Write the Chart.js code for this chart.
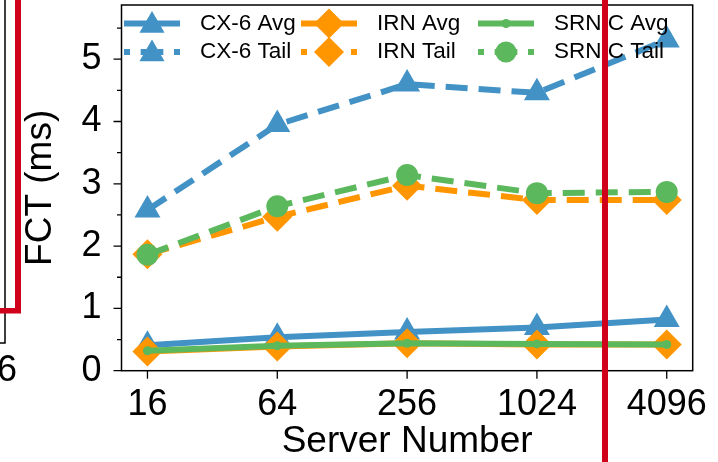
<!DOCTYPE html>
<html>
<head>
<meta charset="utf-8">
<script src="https://cdn.jsdelivr.net/npm/chart.js@4/dist/chart.umd.min.js"></script>
<style>
  html, body { margin: 0; padding: 0; background: #fff; }
  canvas { display: block; }
</style>
</head>
<body>
<canvas id="fct" width="718" height="462"></canvas>
<script>
// data
const servers = ['16', '64', '256', '1024', '4096'];
const cx6Avg = [0.41, 0.535, 0.62, 0.695, 0.82];
const cx6Tail = [2.58, 3.95, 4.6, 4.46, 5.31];
const irnAvg = [0.31, 0.39, 0.44, 0.42, 0.42];
const irnTail = [1.87, 2.47, 2.97, 2.74, 2.74];
const srnicAvg = [0.32, 0.40, 0.44, 0.43, 0.42];
const srnicTail = [1.86, 2.64, 3.14, 2.85, 2.87];
const yTicks = [0, 1, 2, 3, 4, 5];
const yMax = 5.87;

const FONT = "'Liberation Sans', Arial, Helvetica, sans-serif";
const BLUE = '#4292c6', ORANGE = '#ff9600', GREEN = '#5cb85c';
const DASH = [22, 11];
const NO_PAD = () => ({ left: 0, top: 0, right: 0, bottom: 0 });

function series(label, vals, color, style, radius, dash, order) {
  return {
    label,
    data: vals.map((v, i) => ({ x: i, y: v })),
    borderColor: color,
    backgroundColor: color,
    borderWidth: 6,
    borderDash: dash,
    borderCapStyle: 'butt',
    borderJoinStyle: 'round',
    pointStyle: style,
    pointRadius: radius,
    pointHoverRadius: radius,
    pointBackgroundColor: color,
    pointBorderWidth: 0,
    tension: 0,
    fill: false,
    clip: false,
    order
  };
}

const datasets = [
  series('CX-6 Avg', cx6Avg, BLUE, 'triangle', 15, [], 6),
  series('CX-6 Tail', cx6Tail, BLUE, 'triangle', 15, DASH, 5),
  series('IRN Avg', irnAvg, ORANGE, 'rectRot', 15, [], 4),
  series('IRN Tail', irnTail, ORANGE, 'rectRot', 15, DASH, 3),
  series('SRNIC Avg', srnicAvg, GREEN, 'circle', 4.5, [], 2),
  series('SRNIC Tail', srnicTail, GREEN, 'circle', 11, DASH, 1)
];

// marker shapes, same geometry as chart.js points
function marker(ctx, style, r, x, y) {
  ctx.beginPath();
  if (style === 'triangle') {
    ctx.moveTo(x, y - r);
    ctx.lineTo(x + r * Math.sin(2 * Math.PI / 3), y + r / 2);
    ctx.lineTo(x - r * Math.sin(2 * Math.PI / 3), y + r / 2);
  } else if (style === 'rectRot') {
    ctx.moveTo(x - r, y);
    ctx.lineTo(x, y - r);
    ctx.lineTo(x + r, y);
    ctx.lineTo(x, y + r);
  } else {
    ctx.arc(x, y, r, 0, Math.PI * 2);
  }
  ctx.closePath();
  ctx.fill();
}

// spines and tick marks
const axesFrame = {
  id: 'axesFrame',
  beforeDatasetsDraw(chart) {
    const { ctx, chartArea: a, scales: { x, y } } = chart;
    ctx.save();
    ctx.strokeStyle = '#000';
    ctx.lineWidth = 1.5;
    ctx.strokeRect(a.left, a.top, a.right - a.left, a.bottom - a.top);
    ctx.lineWidth = 1.3;
    ctx.beginPath();
    yTicks.forEach(v => {
      const p = y.getPixelForValue(v);
      ctx.moveTo(a.left - 8, p); ctx.lineTo(a.left, p);
    });
    for (let v = 0.5; v < yMax; v += 1) {
      const p = y.getPixelForValue(v);
      ctx.moveTo(a.left - 4.5, p); ctx.lineTo(a.left, p);
    }
    servers.forEach((s, i) => {
      const p = x.getPixelForValue(i);
      ctx.moveTo(p, a.bottom); ctx.lineTo(p, a.bottom + 8);
    });
    ctx.stroke();
    ctx.restore();
  }
};

// legend inside the axes, 3 columns x 2 rows, no frame
const insideLegend = {
  id: 'insideLegend',
  afterDatasetsDraw(chart) {
    const { ctx } = chart;
    const sets = chart.data.datasets;
    ctx.save();
    ctx.font = '22.5px ' + FONT;
    ctx.textBaseline = 'middle';
    ctx.textAlign = 'left';
    sets.forEach((d, i) => {
      const col = Math.floor(i / 2), row = i % 2;
      const x0 = 124 + col * 177, y0 = row === 0 ? 23.5 : 52;
      ctx.strokeStyle = d.borderColor;
      ctx.fillStyle = d.borderColor;
      ctx.lineWidth = 6;
      ctx.lineCap = 'butt';
      ctx.setLineDash(row === 0 ? [] : [6, 10.67]);
      ctx.beginPath();
      ctx.moveTo(x0, y0); ctx.lineTo(x0 + 56, y0);
      ctx.stroke();
      ctx.setLineDash([]);
      const r = d.pointStyle === 'triangle' ? 14.5 : (d.pointStyle === 'rectRot' ? 15 : (row === 0 ? 4.5 : 10.5));
      marker(ctx, d.pointStyle, r, x0 + 28, y0 + (d.pointStyle === 'triangle' ? 2 : 0));
      ctx.fillStyle = '#000';
      ctx.fillText(d.label, x0 + 76, y0);
    });
    ctx.restore();
  }
};

// red annotation marks and the cut-off neighbour panel
const overlay = {
  id: 'overlay',
  afterDraw(chart) {
    const { ctx } = chart;
    ctx.save();
    ctx.strokeStyle = '#000';
    ctx.lineWidth = 1.5;
    ctx.beginPath();
    ctx.moveTo(5, 0); ctx.lineTo(5, 343); ctx.lineTo(0, 343);
    ctx.stroke();
    ctx.fillStyle = '#000';
    ctx.font = '36px ' + FONT;
    ctx.textAlign = 'right';
    ctx.textBaseline = 'middle';
    ctx.fillText('6', 17, 371);
    ctx.fillStyle = '#d0021b';
    ctx.fillRect(15, 0, 6, 313);
    ctx.fillRect(0, 308, 21, 5.5);
    ctx.fillRect(602, 0, 6, 462);
    ctx.restore();
  }
};

new Chart(document.getElementById('fct').getContext('2d'), {
  type: 'line',
  data: { datasets },
  plugins: [axesFrame, insideLegend, overlay],
  options: {
    responsive: false,
    animation: false,
    devicePixelRatio: 1,
    layout: { autoPadding: false, padding: { left: 0, top: 5, right: 25.3, bottom: 0 } },
    plugins: { legend: { display: false }, tooltip: { enabled: false } },
    scales: {
      x: {
        type: 'linear',
        min: -0.2,
        max: 4.2,
        afterBuildTicks(s) { s.ticks = servers.map((_, i) => ({ value: i })); },
        ticks: {
          callback: v => servers[v],
          padding: 12.5,
          maxRotation: 0,
          autoSkip: false,
          color: '#000',
          font: { family: FONT, size: 36 }
        },
        grid: { display: false, drawTicks: false },
        border: { display: false },
        title: {
          display: true,
          text: 'Server Number',
          color: '#000',
          font: { family: FONT, size: 37 },
          padding: { top: 0, bottom: -2 }
        },
        afterFit(s) {
          s.height = 91.3;
          s.paddingLeft = s.paddingRight = s.paddingTop = s.paddingBottom = 0;
          s.getPadding = NO_PAD;
        }
      },
      y: {
        min: 0,
        max: yMax,
        ticks: {
          stepSize: 1,
          includeBounds: false,
          padding: 20,
          color: '#000',
          font: { family: FONT, size: 36 }
        },
        grid: { display: false, drawTicks: false },
        border: { display: false },
        title: {
          display: true,
          text: 'FCT (ms)',
          color: '#000',
          font: { family: FONT, size: 37 },
          padding: { top: 19, bottom: 0 }
        },
        afterFit(s) {
          s.width = 121.5;
          s.paddingLeft = s.paddingRight = s.paddingTop = s.paddingBottom = 0;
          s.getPadding = NO_PAD;
        }
      }
    }
  }
});
</script>
</body>
</html>
